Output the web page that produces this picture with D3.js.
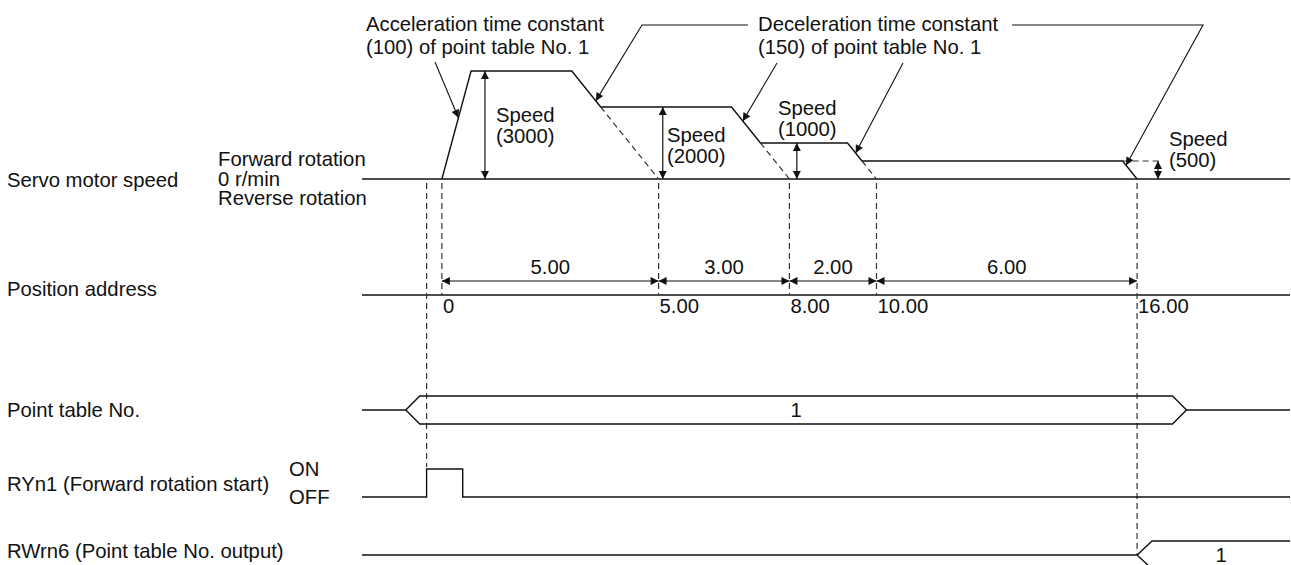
<!DOCTYPE html>
<html>
<head>
<meta charset="utf-8">
<style>
  body { margin: 0; background: #fff; }
  text { font-family: "Liberation Sans", Arial, sans-serif; font-size: 20.3px; fill: #111; }
</style>
</head>
<body>
<svg id="svg"></svg>
<script src="https://d3js.org/d3.v7.min.js"></script>
<script>
  // speed of each step of the move (r/min)
  var speeds = [3000, 2000, 1000, 500];
  // schematic time at which each deceleration starts
  var decelStarts = [187, 417, 584, 980];
  var accelTime = 42;   // 0 -> rated speed
  var decelTime = 125;  // rated speed -> 0
  var ratedSpeed = 3000;

  var positions = ["0", "5.00", "8.00", "10.00", "16.00"];
  var distances = ["5.00", "3.00", "2.00", "6.00"];

  var startPulse = [-22, 30];      // RYn1 on / off
  var tableWindow = [-52, 1072];   // point table No. valid
  var tableNo = "1";
  var outputNo = "1";
  var timeRange = [-115, 1221];

  var width = 1291, height = 565;
  var svg = d3.select("#svg").attr("width", width).attr("height", height);

  var x = d3.scaleLinear().domain(timeRange).range([362, 1290]);
  var y = d3.scaleLinear().domain([0, ratedSpeed]).range([179, 71]);

  var posY = 295, dimY = 281, tableY = 410, ryOff = 497, ryOn = 469, rwY = 555;

  var defs = svg.append("defs");
  defs.append("marker")
    .attr("id", "arr")
    .attr("viewBox", "0 0 10 10")
    .attr("refX", 10).attr("refY", 5)
    .attr("markerWidth", 9).attr("markerHeight", 8)
    .attr("markerUnits", "userSpaceOnUse")
    .attr("orient", "auto-start-reverse")
    .append("path").attr("d", "M0,0L10,5L0,10z").attr("fill", "#111");

  var line = d3.line();

  function solid(pts, w) {
    return svg.append("path").attr("d", line(pts)).attr("fill", "none")
      .attr("stroke", "#111").attr("stroke-width", w || 1.4);
  }
  function dashed(pts) {
    return svg.append("path").attr("d", line(pts)).attr("fill", "none")
      .attr("stroke", "#333").attr("stroke-width", 1.2).attr("stroke-dasharray", "6,4");
  }
  function label(tx, ty, s, anchor) {
    svg.append("text").attr("x", tx).attr("y", ty)
      .attr("text-anchor", anchor || "start").text(s);
  }

  // zero crossing of each deceleration ramp = end of each position step
  var stops = speeds.map(function (s, i) {
    return decelStarts[i] + s / ratedSpeed * decelTime;
  });
  var ticks = [0].concat(stops);

  function rampPoint(i, s) {
    var t = decelStarts[i] + (speeds[i] - s) / ratedSpeed * decelTime;
    return [x(t), y(s)];
  }

  // BASELINES
  solid([[x(timeRange[0]), y(0)], [x(timeRange[1]), y(0)]]);
  solid([[x(timeRange[0]), posY], [x(timeRange[1]), posY]]);

  // SPEED PROFILE
  var prof = [[x(0), y(0)], [x(accelTime), y(speeds[0])]];
  speeds.forEach(function (s, i) {
    var next = i < speeds.length - 1 ? speeds[i + 1] : 0;
    prof.push(rampPoint(i, s));
    prof.push(rampPoint(i, next));
  });
  solid(prof);

  // dashed continuation of the ramps
  for (var i = 0; i < speeds.length - 1; i++) {
    dashed([rampPoint(i, speeds[i + 1]), [x(stops[i]), y(0)]]);
  }

  // VERTICAL DASHED GUIDES
  dashed([[x(startPulse[0]), y(0) + 4], [x(startPulse[0]), ryOn - 2]]);
  ticks.forEach(function (t, i) {
    var bottom = i === ticks.length - 1 ? rwY : posY;
    dashed([[x(t), y(0) + 4], [x(t), bottom]]);
  });

  // SPEED ARROWS
  var speedArrowT = [62, 318, 511, 1031];
  var speedLabelX = [496, 667, 778, 1169];
  var speedLabelY = [122, 142, 115, 146];
  speeds.forEach(function (s, i) {
    svg.append("path")
      .attr("d", line([[x(speedArrowT[i]), y(s)], [x(speedArrowT[i]), y(0)]]))
      .attr("stroke", "#111").attr("stroke-width", 1.2)
      .attr("marker-start", "url(#arr)").attr("marker-end", "url(#arr)");
    label(speedLabelX[i], speedLabelY[i], "Speed");
    label(speedLabelX[i], speedLabelY[i] + 21, "(" + s + ")");
  });
  // last speed level continued dashed to its arrow
  dashed([rampPoint(3, speeds[3]), [x(speedArrowT[3]) + 4, y(speeds[3])]]);

  // ANNOTATIONS
  label(366, 31, "Acceleration time constant");
  label(366, 54, "(100) of point table No. 1");
  label(758, 31, "Deceleration time constant");
  label(758, 54, "(150) of point table No. 1");

  function leader(pts) {
    svg.append("path").attr("d", line(pts)).attr("fill", "none")
      .attr("stroke", "#111").attr("stroke-width", 1.1)
      .attr("marker-end", "url(#arr)");
  }
  var accTipS = 1700;
  leader([[435, 62], [x(accTipS / ratedSpeed * accelTime), y(accTipS)]]);
  leader([[748, 25], [642, 25], rampPoint(0, 2170)]);
  leader([[777, 63], rampPoint(1, 1610)]);
  leader([[903, 63], rampPoint(2, 720)]);
  leader([[1012, 25], [1203, 25], rampPoint(3, 380)]);

  // POSITION ADDRESS
  distances.forEach(function (d, i) {
    var x0 = x(ticks[i]), x1 = x(ticks[i + 1]);
    svg.append("path").attr("d", line([[x0, dimY], [x1, dimY]]))
      .attr("stroke", "#111").attr("stroke-width", 1.2)
      .attr("marker-start", "url(#arr)").attr("marker-end", "url(#arr)");
    label((x0 + x1) / 2, 274, d, "middle");
  });
  positions.forEach(function (p, i) {
    label(x(ticks[i]) + 1, 313, p);
  });

  // POINT TABLE No.
  var sl = 14;
  var tl = x(tableWindow[0]), tr = x(tableWindow[1]);
  solid([[x(timeRange[0]), tableY], [tl, tableY], [tl + sl, tableY - sl], [tr - sl, tableY - sl], [tr, tableY], [x(timeRange[1]), tableY]]);
  solid([[tl, tableY], [tl + sl, tableY + sl], [tr - sl, tableY + sl], [tr, tableY]]);
  label((tl + tr) / 2, 417, tableNo, "middle");

  // RYn1
  var p0 = x(startPulse[0]), p1 = x(startPulse[1]);
  solid([[x(timeRange[0]), ryOff], [p0, ryOff], [p0, ryOn], [p1, ryOn], [p1, ryOff], [x(timeRange[1]), ryOff]]);

  // RWrn6
  var xs = x(stops[stops.length - 1]);
  solid([[x(timeRange[0]), rwY], [xs, rwY], [xs + 15, rwY - 14], [x(timeRange[1]), rwY - 14]]);
  solid([[xs, rwY], [xs + 15, rwY + 14]]);
  label((xs + 15 + x(timeRange[1])) / 2, 562, outputNo, "middle");

  // LEFT LABELS
  label(7, 187, "Servo motor speed");
  label(218, 166, "Forward rotation");
  label(218, 186, "0 r/min");
  label(218, 205, "Reverse rotation");
  label(7, 296, "Position address");
  label(7, 417, "Point table No.");
  label(7, 491, "RYn1 (Forward rotation start)");
  label(289, 476, "ON");
  label(289, 504, "OFF");
  label(7, 558, "RWrn6 (Point table No. output)");
</script>
</body>
</html>
